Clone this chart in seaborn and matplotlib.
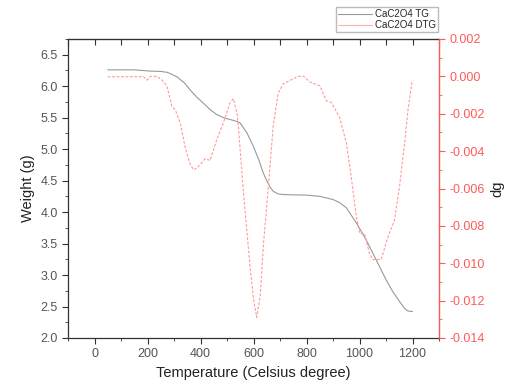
import matplotlib
matplotlib.use("Agg")
import matplotlib.pyplot as plt
import seaborn as sns
import pandas as pd
from matplotlib.ticker import MultipleLocator
from matplotlib.lines import Line2D

# TG curve (temperature in C, weight in g)
tg_temp = [50, 150, 211, 250, 275, 311, 340, 361, 385, 411, 436, 461, 487, 512, 530,
           549, 575, 600, 620, 637, 650, 662, 675, 693, 710, 740, 800, 850, 900, 925,
           950, 988, 1025, 1063, 1101, 1125, 1151, 1170, 1182, 1200]
tg_weight = [6.26, 6.26, 6.24, 6.235, 6.22, 6.15, 6.05, 5.94, 5.83, 5.73, 5.63, 5.55,
             5.50, 5.47, 5.45, 5.42, 5.26, 5.04, 4.83, 4.62, 4.50, 4.40, 4.33, 4.29,
             4.28, 4.275, 4.27, 4.25, 4.20, 4.15, 4.07, 3.83, 3.56, 3.24, 2.92, 2.74,
             2.58, 2.47, 2.43, 2.42]

# DTG curve (temperature in C, dg)
dtg_temp = [50, 150, 185, 199, 211, 236, 255, 273, 292, 305, 324, 342, 361, 374, 386,
            399, 418, 436, 461, 486, 512, 524, 538, 543, 562, 587, 600, 612, 625, 637,
            656, 674, 693, 712, 740, 768, 790, 812, 850, 875, 894, 925, 951, 969, 988,
            1001, 1019, 1038, 1050, 1066, 1082, 1107, 1132, 1151, 1170, 1183, 1199]
dtg_value = [-0.00002, -0.00002, -0.00002, -0.0002, 0.0, 0.0, -0.0002, -0.0005, -0.0016,
             -0.0018, -0.0025, -0.0038, -0.0047, -0.0050, -0.0049, -0.0047, -0.0044,
             -0.0045, -0.0034, -0.0025, -0.0014, -0.0012, -0.0020, -0.0027, -0.0062,
             -0.0102, -0.0119, -0.0129, -0.0118, -0.0091, -0.0059, -0.0027, -0.0009,
             -0.0004, -0.0002, 0.0, 0.0, -0.0003, -0.0005, -0.0013, -0.0014, -0.0022,
             -0.0036, -0.0054, -0.0075, -0.0084, -0.0084, -0.0095, -0.0098, -0.0098,
             -0.0098, -0.0086, -0.0077, -0.0059, -0.0036, -0.0018, -0.0002]

tg = pd.DataFrame({"temp": tg_temp, "weight": tg_weight})
dtg = pd.DataFrame({"temp": dtg_temp, "dg": dtg_value})

sns.set_style("ticks")
plt.rcParams["font.family"] = ["Liberation Sans", "DejaVu Sans"]

red = "#ff5a5a"
gray_text = "#555555"

fig = plt.figure(figsize=(5.11, 3.90), dpi=100)
ax = fig.add_axes([68 / 511, 52 / 390, 371 / 511, 299 / 390])

sns.lineplot(data=tg, x="temp", y="weight", ax=ax, color="#999999", linewidth=0.8)
ax.set_xlim(-100, 1300)
ax.set_ylim(2.0, 6.75)
ax.xaxis.set_major_locator(MultipleLocator(200))
ax.xaxis.set_minor_locator(MultipleLocator(100))
ax.yaxis.set_major_locator(MultipleLocator(0.5))
ax.yaxis.set_minor_locator(MultipleLocator(0.25))
ax.set_xlabel("Temperature (Celsius degree)", fontsize=10.5, color="#222222")
ax.set_ylabel("Weight (g)", fontsize=10.5, color="#222222")
ax.tick_params(axis="both", which="both", labelsize=9, labelcolor=gray_text,
               color="#333333", direction="out")
ax.tick_params(which="major", length=4)
ax.tick_params(which="minor", length=2.5)
for s in ["left", "bottom", "top"]:
    ax.spines[s].set_color("#333333")
    ax.spines[s].set_linewidth(0.9)
ax.spines["top"].set_visible(True)
ax.yaxis.set_major_formatter(plt.FormatStrFormatter("%.1f"))

ax2 = ax.twinx()
sns.lineplot(data=dtg, x="temp", y="dg", ax=ax2, color="#ff9999", linewidth=0.8,
             linestyle=(0, (2.5, 1.5)))
ax2.set_ylim(-0.014, 0.002)
ax2.yaxis.set_major_locator(MultipleLocator(0.002))
ax2.yaxis.set_minor_locator(MultipleLocator(0.001))
ax2.yaxis.set_major_formatter(plt.FormatStrFormatter("%.3f"))
ax2.set_ylabel("dg", fontsize=10.5, color="#222222")
ax2.tick_params(axis="y", which="both", labelsize=9, labelcolor=red, color=red,
                direction="out")
ax2.tick_params(which="major", length=4)
ax2.tick_params(which="minor", length=2.5)
ax2.spines["right"].set_color(red)
ax2.spines["right"].set_linewidth(0.9)
ax2.spines["top"].set_visible(False)
ax2.spines["left"].set_visible(False)
ax2.spines["bottom"].set_visible(False)
ax2.set_xlabel("")

# top axis ticks point inward
top_ticks = ax.secondary_xaxis("top")
top_ticks.xaxis.set_major_locator(MultipleLocator(100))
top_ticks.tick_params(direction="in", length=4, labeltop=False, color="#333333")
ax.tick_params(axis="x", which="both", top=False)

handles = [Line2D([], [], color="#999999", linewidth=0.8),
           Line2D([], [], color="#ffb0b0", linewidth=0.8)]
fig.legend(handles, ["CaC2O4 TG", "CaC2O4 DTG"], loc="upper right",
           bbox_to_anchor=(438 / 511, 1 - 7 / 390), fontsize=7, frameon=True,
           fancybox=False, edgecolor="#aaaaaa", handlelength=3.5, handletextpad=0.3,
           borderpad=0.2, labelspacing=0.1, borderaxespad=0)

fig.savefig("out.png", dpi=100)
